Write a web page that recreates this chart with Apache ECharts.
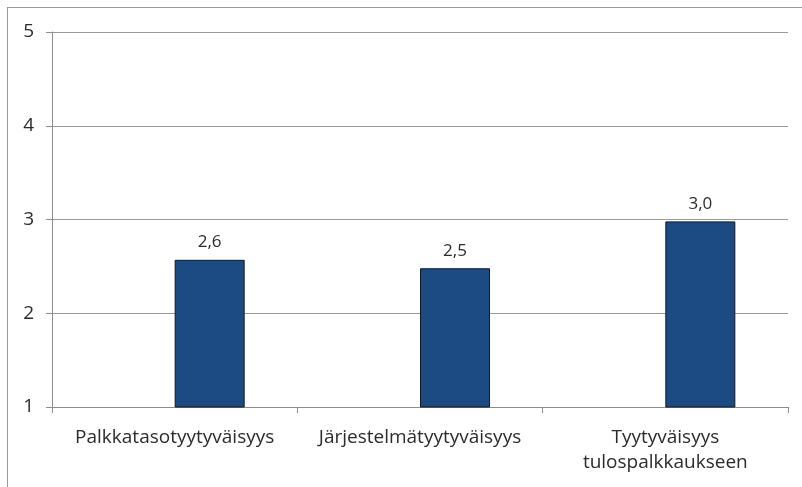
<!DOCTYPE html>
<html>
<head>
<meta charset="utf-8">
<script src="https://cdn.jsdelivr.net/npm/echarts@6/dist/echarts.min.js"></script>
<style>
  html, body { margin: 0; padding: 0; background: #fff; overflow: hidden; }
  #frame { position: absolute; left: 7px; top: 7px; width: 820px; height: 500px; border: 1px solid #9a9a9a; }
  #chart { position: absolute; left: 0; top: 0; width: 802px; height: 487px; }
</style>
</head>
<body>
<div id="frame"></div>
<div id="chart"></div>
<script>
const categories = ["Palkkatasotyytyväisyys", "Järjestelmätyytyväisyys", "Tyytyväisyys\ntulospalkkaukseen"];
const values = [2.57, 2.48, 2.98];
const yTicks = [1, 2, 3, 4, 5];

const font = "'Open Sans', sans-serif";
const chart = echarts.init(document.getElementById("chart"));

chart.setOption({
    animation: false,
    grid: { left: 52, right: 14, top: 32, bottom: 80, containLabel: false },
    xAxis: {
        type: "category",
        data: categories,
        axisLine: { lineStyle: { color: "#8c8c8c", width: 1 } },
        axisTick: { show: true, interval: 0, length: 6, lineStyle: { color: "#8c8c8c" } },
        axisLabel: { interval: 0, hideOverlap: false, color: "#2b2b2b", fontSize: 19, fontFamily: font, margin: 18, lineHeight: 25 }
    },
    yAxis: {
        type: "value",
        min: yTicks[0],
        max: yTicks[yTicks.length - 1],
        interval: 1,
        axisLine: { show: true, lineStyle: { color: "#8c8c8c", width: 1 } },
        axisTick: { show: true, length: 6, lineStyle: { color: "#8c8c8c" } },
        axisLabel: { color: "#2b2b2b", fontSize: 19, fontFamily: font, margin: 18 },
        splitLine: { lineStyle: { color: "#9a9a9a", width: 1 } }
    },
    series: [
        {
            // empty first series, keeps the bars offset like the original
            type: "bar",
            data: categories.map(() => null),
            barWidth: 70,
            barGap: "0%"
        },
        {
            type: "bar",
            data: values,
            barWidth: 70,
            barGap: "0%",
            itemStyle: { color: "#1c4b84", borderColor: "#101820", borderWidth: 1 },
            label: {
                show: true,
                position: "top",
                distance: 9,
                color: "#2b2b2b",
                fontSize: 17,
                fontFamily: font,
                formatter: p => p.value.toFixed(1).replace(".", ",")
            }
        }
    ]
});
</script>
</body>
</html>
